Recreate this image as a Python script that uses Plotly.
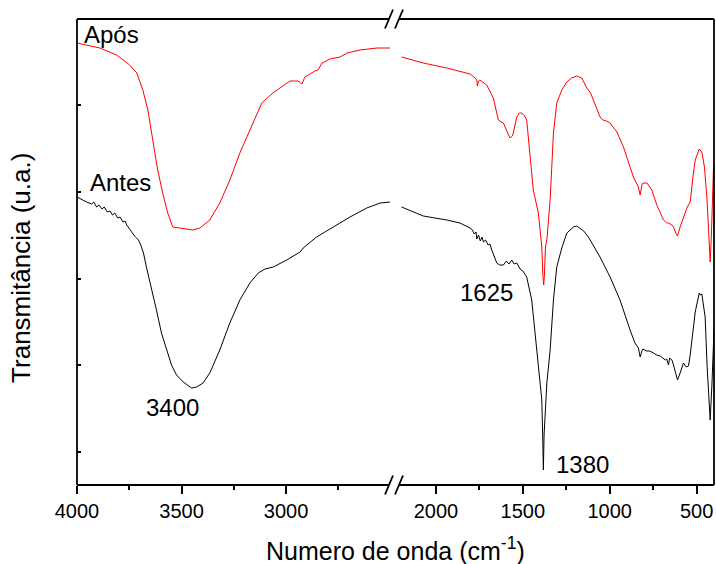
import plotly.graph_objects as go

# ---------------- data (wavenumber cm-1, transmittance a.u.) ----------------
apos_left_w = [4000, 3891, 3810, 3748, 3714, 3685, 3661, 3637, 3614, 3590, 3566, 3542, 3508, 3480,
               3446, 3412, 3365, 3317, 3269, 3221, 3173, 3116, 3063, 2982, 2943, 2924, 2910, 2862,
               2847, 2828, 2790, 2742, 2708, 2646, 2565, 2503]
apos_left_t = [442, 437, 430, 420, 412, 395, 375, 345, 315, 292, 272, 258, 257, 256,
               255, 257, 265, 282, 305, 332, 355, 382, 392, 404, 404, 401, 408, 414,
               415, 422, 426, 428, 432, 435, 437, 437]

apos_right_w = [2198, 2073, 1938, 1804, 1775, 1765, 1762, 1755, 1747, 1708, 1670, 1641, 1625, 1612,
                1590, 1574, 1560, 1555, 1535, 1520, 1506, 1490, 1478, 1460, 1440, 1411, 1391, 1385,
                1380, 1376, 1370, 1362, 1343, 1324, 1305, 1276, 1247, 1220, 1190, 1161, 1132, 1110,
                1094, 1075, 1056, 1040, 1020, 998, 980, 959, 921, 864, 835, 825, 815, 809,
                786, 758, 729, 691, 672, 662, 642, 633, 620, 610, 595, 576, 556, 547,
                537, 520, 508, 485, 470, 455, 441, 432, 422, 415, 410, 403, 400]
apos_right_t = [428, 422, 417, 411, 407, 405, 399, 404, 405, 400, 387, 365, 363, 362,
                353, 347, 349, 352, 368, 372, 372, 369, 365, 335, 295, 272, 238, 210,
                200, 210, 238, 245, 285, 352, 382, 395, 403, 407, 409, 407, 397, 392,
                385, 378, 368, 365, 364, 362, 358, 353, 338, 308, 298, 290, 300, 302,
                302, 295, 280, 265, 262, 262, 260, 258, 252, 249, 258, 268, 277, 280,
                283, 310, 325, 336, 333, 318, 288, 258, 223, 250, 285, 317, 320]

antes_left_w = [4000, 3975, 3954, 3930, 3920, 3906, 3895, 3880, 3870, 3855, 3842, 3830, 3820, 3805,
                3794, 3780, 3770, 3762, 3750, 3738, 3725, 3715, 3706, 3695, 3682, 3668, 3644, 3620,
                3596, 3572, 3548, 3524, 3492, 3452, 3428, 3397, 3365, 3317, 3269, 3221, 3173, 3133,
                3101, 3061, 2997, 2933, 2918, 2854, 2774, 2694, 2614, 2550, 2503]
antes_left_t = [288, 285, 283, 281, 283, 278, 280, 276, 278, 273, 274, 270, 272, 267,
                268, 263, 264, 260, 256, 252, 249, 247, 245, 240, 232, 218, 198, 175,
                152, 135, 120, 110, 103, 97, 98, 102, 112, 135, 162, 185, 202, 212,
                216, 218, 225, 233, 237, 248, 258, 268, 277, 282, 283]

antes_right_w = [2198, 2073, 1938, 1862, 1804, 1790, 1780, 1770, 1765, 1755, 1745, 1735, 1727, 1715,
                 1700, 1690, 1679, 1665, 1650, 1635, 1612, 1595, 1580, 1564, 1550, 1535, 1516, 1500,
                 1478, 1449, 1430, 1411, 1391, 1386, 1382, 1378, 1372, 1362, 1343, 1324, 1305, 1276,
                 1247, 1209, 1190, 1171, 1150, 1123, 1085, 1056, 998, 941, 883, 855, 835, 825,
                 815, 809, 790, 770, 748, 730, 710, 691, 680, 672, 662, 655, 642, 633,
                 610, 595, 576, 560, 547, 537, 508, 485, 478, 470, 451, 440, 422, 412, 400]
antes_right_t = [278, 269, 265, 262, 257, 255, 251, 253, 246, 250, 244, 248, 243, 245,
                 240, 241, 235, 229, 222, 220, 220, 224, 221, 225, 221, 222, 216, 214,
                 208, 185, 152, 118, 85, 50, 15, 50, 75, 102, 135, 185, 218, 237,
                 252, 258, 259, 257, 254, 248, 237, 228, 208, 185, 155, 142, 137, 128,
                 134, 136, 134, 134, 132, 130, 129, 127, 125, 126, 120, 127, 125, 120,
                 105, 112, 122, 118, 119, 130, 173, 192, 190, 191, 168, 120, 65, 100, 155]

left_major = [4000, 3500, 3000]
left_minor = [3750, 3250, 2750]
right_major = [2000, 1500, 1000, 500]
right_minor = [1750, 1250, 750]

labels = [("Após", "x", 3836, 450.5), ("Antes", "x", 3791, 303), ("3400", "x", 3542, 78),
          ("1625", "x2", 1709, 193), ("1380", "x2", 1156, 20.5)]

# ---------------- figure ----------------
FONT = "Arial, Liberation Sans, sans-serif"
W, H = 716, 564
ML, MR, MT, MB = 77, 2, 19, 79
LEFT_DOM = [0, 0.4972]
RIGHT_DOM = [0.5022, 1]
LEFT_RANGE = [4000, 2485]
RIGHT_RANGE = [2225, 400]
YR = [0, 466]

fig = go.Figure()
for w, t, xa, col in [(apos_left_w, apos_left_t, "x", "#FF0000"),
                      (apos_right_w, apos_right_t, "x2", "#FF0000"),
                      (antes_left_w, antes_left_t, "x", "#000000"),
                      (antes_right_w, antes_right_t, "x2", "#000000")]:
    fig.add_trace(go.Scatter(x=w, y=t, xaxis=xa, yaxis="y", mode="lines",
                             line=dict(color=col, width=1), showlegend=False,
                             hoverinfo="skip"))

tickfont = dict(family=FONT, size=20, color="black")
common_x = dict(showline=False, showgrid=False, zeroline=False, ticks="outside",
                ticklen=8, tickwidth=1.5, tickcolor="black", tickfont=tickfont, anchor="y")
fig.update_layout(
    width=W, height=H, margin=dict(l=ML, r=MR, t=MT, b=MB),
    paper_bgcolor="white", plot_bgcolor="white",
    xaxis=dict(domain=LEFT_DOM, range=LEFT_RANGE, tickmode="array", tickvals=left_major,
               minor=dict(tickmode="array", tickvals=left_minor, ticks="outside", ticklen=4,
                          tickwidth=1.5, tickcolor="black"), **common_x),
    xaxis2=dict(domain=RIGHT_DOM, range=RIGHT_RANGE, tickmode="array", tickvals=right_major,
                minor=dict(tickmode="array", tickvals=right_minor, ticks="outside", ticklen=4,
                           tickwidth=1.5, tickcolor="black"), **common_x),
    xaxis3=dict(domain=LEFT_DOM, range=LEFT_RANGE, overlaying="x", side="top", anchor="y",
                tickmode="array", tickvals=left_major + left_minor, ticks="inside", ticklen=4,
                tickwidth=1.5, tickcolor="black", showticklabels=False, showgrid=False,
                zeroline=False, showline=False),
    xaxis4=dict(domain=RIGHT_DOM, range=RIGHT_RANGE, overlaying="x2", side="top", anchor="y",
                tickmode="array", tickvals=right_major + right_minor, ticks="inside", ticklen=4,
                tickwidth=1.5, tickcolor="black", showticklabels=False, showgrid=False,
                zeroline=False, showline=False),
    yaxis=dict(range=YR, anchor="x", tickmode="linear", tick0=33, dtick=86.7, ticks="inside",
               ticklen=4, tickwidth=1.5, tickcolor="black", showticklabels=False,
               showgrid=False, zeroline=False, showline=False),
    yaxis2=dict(range=YR, overlaying="y", side="right", anchor="x2", tickmode="linear",
                tick0=33, dtick=86.7, ticks="inside", ticklen=4, tickwidth=1.5,
                tickcolor="black", showticklabels=False, showgrid=False, zeroline=False,
                showline=False),
)

# frame with axis break
lw = 1.8
b1, b2 = 0.4898, 0.5055
segs = [((0, 0), (b1, 0)), ((b2, 0), (1, 0)), ((0, 1), (b1, 1)), ((b2, 1), (1, 1)),
        ((0, 0), (0, 1)), ((1, 0), (1, 1))]
for (x0, y0), (x1, y1) in segs:
    fig.add_shape(type="line", xref="paper", yref="paper", x0=x0, y0=y0, x1=x1, y1=y1,
                  line=dict(color="black", width=lw))
dx, dy = 4 / 637, 9.5 / 466
for yb in (0, 1):
    for xc in (b1, b2):
        fig.add_shape(type="line", xref="paper", yref="paper",
                      x0=xc - dx, y0=yb - dy, x1=xc + dx, y1=yb + dy,
                      line=dict(color="black", width=lw))

for txt, xa, xv, yv in labels:
    fig.add_annotation(text=txt, xref=xa, yref="y", x=xv, y=yv, showarrow=False,
                       xanchor="center", yanchor="middle",
                       font=dict(family=FONT, size=24, color="black"))

fig.add_annotation(text="Numero de onda (cm<sup>-1</sup>)", xref="paper", yref="paper",
                   x=0.5, y=-0.137, showarrow=False, xanchor="center", yanchor="middle",
                   font=dict(family=FONT, size=25, color="black"))
fig.add_annotation(text="Transmitância (u.a.)", xref="paper", yref="paper",
                   x=-0.087, y=0.465, showarrow=False, textangle=-90,
                   xanchor="center", yanchor="middle",
                   font=dict(family=FONT, size=26, color="black"))

fig.write_html("out.html")
